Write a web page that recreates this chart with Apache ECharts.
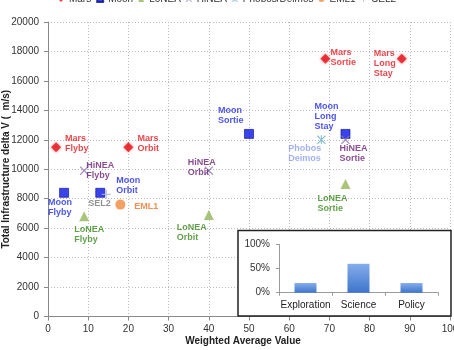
<!DOCTYPE html>
<html><head><meta charset="utf-8">
<script src="https://cdn.jsdelivr.net/npm/echarts@6/dist/echarts.min.js"></script>
<style>html,body{margin:0;padding:0;background:#fff}#c{width:454px;height:350px}</style>
</head><body><div id="c"></div>
<script>
// ---- data ----
const marsX = [2, 20, 69, 88];
const marsY = [11500, 11500, 17500, 17500];
const marsNames = ['Mars\nFlyby', 'Mars\nOrbit', 'Mars\nSortie', 'Mars\nLong\nStay'];
const moonX = [4, 13, 50, 74];
const moonY = [8400, 8400, 12400, 12400];
const moonNames = ['Moon\nFlyby', 'Moon\nOrbit', 'Moon\nSortie', 'Moon\nLong\nStay'];
const loneaX = [9, 40, 74];
const loneaY = [6800, 6900, 9000];
const loneaNames = ['LoNEA\nFlyby', 'LoNEA\nOrbit', 'LoNEA\nSortie'];
const hineaX = [9, 40, 74];
const hineaY = [9900, 9900, 12000];
const hineaNames = ['HiNEA\nFlyby', 'HiNEA\nOrbit', 'HiNEA\nSortie'];
const phobosX = [68];
const phobosY = [12000];
const phobosNames = ['Phobos\nDeimos'];
const emlX = [18];
const emlY = [7600];
const emlNames = ['EML1'];
const selX = [14.5];
const selY = [8300];
const selNames = ['SEL2'];
const insetCats = ['Exploration', 'Science', 'Policy'];
const insetVals = [20, 60, 20];

// ---- label placement (text top-left relative to marker centre) ----
const marsOff = [[9,-14],[9,-14],[5,-11],[-28,-10]];
const moonOff = [[-16,5],[16,-17],[-31,-28],[-31,-32]];
const loneaOff = [[-10,8],[-32,8],[-28,10]];
const hineaOff = [[2,-10],[-21,-13],[-6,4]];
const phobosOff = [[-33,4]];
const emlOff = [[14,-3]];
const selOff = [[-18,4]];

const FONT = 'Liberation Sans, Arial, Helvetica, sans-serif';
const X_PATH = 'path://M0,1L1,0L5,4L9,0L10,1L6,5L10,9L9,10L5,6L1,10L0,9L4,5Z';
const STAR_PATH = 'path://M0,1L1,0L5,4L9,0L10,1L6,5L10,9L9,10L5,6L1,10L0,9L4,5Z M4.4,0L5.6,0L5.6,10L4.4,10Z';
const PLUS_PATH = 'path://M4.3,0L5.7,0L5.7,4.3L10,4.3L10,5.7L5.7,5.7L5.7,10L4.3,10L4.3,5.7L0,5.7L0,4.3L4.3,4.3Z';

function pts(xs, ys, names, offs, color) {
  return xs.map((x, i) => ({
    value: [x, ys[i]],
    name: names[i],
    label: {
      show: true, formatter: names[i], position: 'inside',
      align: 'left', verticalAlign: 'top', offset: offs[i],
      color: color, fontWeight: 'bold', fontSize: 9, lineHeight: 10,
      fontFamily: FONT, textBorderWidth: 0
    }
  }));
}

function sc(name, data, symbol, size, color, extra) {
  return Object.assign({
    name: name, type: 'scatter', symbol: symbol, symbolSize: size,
    itemStyle: { color: color }, data: data, z: 3,
    emphasis: { disabled: true }
  }, extra || {});
}

const chart = echarts.init(document.getElementById('c'));
chart.setOption({
  animation: false,
  backgroundColor: '#fff',
  textStyle: { fontFamily: FONT },
  legend: {
    top: -6, left: 'center', padding: 0, itemGap: 5, itemWidth: 6, itemHeight: 6,
    textStyle: { fontSize: 10, color: '#333', fontFamily: FONT },
    data: ['Mars', 'Moon', 'LoNEA', 'HiNEA', 'Phobos/Deimos', 'EML1', 'SEL2']
  },
  grid: [
    { left: 48, right: 4, top: 22, bottom: 33.5, outerBoundsMode: 'none', containLabel: false },
    { left: 279, right: 16, top: 244.5, bottom: 57.3, outerBoundsMode: 'none', containLabel: false }
  ],
  xAxis: [
    {
      type: 'value', gridIndex: 0, min: 0, max: 100, interval: 10,
      name: 'Weighted Average Value', nameLocation: 'middle', nameGap: 20, nameMoveOverlap: false,
      nameTextStyle: { fontWeight: 'bold', fontSize: 10, color: '#222', fontFamily: FONT, padding: [0, 12, 0, 0] },
      axisLine: { lineStyle: { color: '#888' } },
      axisTick: { show: true, length: 4, lineStyle: { color: '#888' } },
      axisLabel: { fontSize: 10, color: '#333', margin: 8, formatter: v => String(v) },
      splitLine: { show: true, lineStyle: { color: '#bbb', type: [1, 2] } }
    },
    {
      type: 'category', gridIndex: 1, data: insetCats, z: 60,
      axisLine: { lineStyle: { color: '#999' } },
      axisTick: { show: true, length: 3, alignWithLabel: false, lineStyle: { color: '#999' } },
      axisLabel: { fontSize: 10, color: '#222', margin: 8, interval: 0 }
    }
  ],
  yAxis: [
    {
      type: 'value', gridIndex: 0, min: 0, max: 20000, interval: 2000,
      name: 'Total Infrastructure delta V (  m/s)', nameLocation: 'middle', nameGap: 37, nameMoveOverlap: false,
      nameTextStyle: { fontWeight: 'bold', fontSize: 10, color: '#222', fontFamily: FONT },
      axisLine: { show: true, lineStyle: { color: '#888' } },
      axisTick: { show: true, length: 4, lineStyle: { color: '#888' } },
      axisLabel: { fontSize: 10, color: '#333', margin: 9, formatter: v => String(v) },
      splitLine: { show: true, lineStyle: { color: '#bbb', type: [1, 2] } }
    },
    {
      type: 'value', gridIndex: 1, min: 0, max: 100, interval: 50, z: 60,
      axisLine: { show: true, lineStyle: { color: '#999' } },
      axisTick: { show: true, length: 3, lineStyle: { color: '#999' } },
      axisLabel: { fontSize: 10, color: '#333', margin: 9, formatter: '{value}%' },
      splitLine: { show: false }
    }
  ],
  graphic: [{
    type: 'rect', z: 50, silent: true,
    shape: { x: 238, y: 230.5, width: 213, height: 85.5 },
    style: { fill: '#fff', stroke: '#222', lineWidth: 1.5 }
  }],
  series: [
    sc('Mars', pts(marsX, marsY, marsNames, marsOff, '#e8161c'), 'diamond', 10, '#e8141b',
       { itemStyle: { color: '#e8141b', shadowBlur: 3, shadowColor: 'rgba(232,20,27,0.6)' } }),
    sc('Moon', pts(moonX, moonY, moonNames, moonOff, '#1f2be6'), 'rect', 9, '#0a14e8',
       { itemStyle: { color: '#0a14e8', borderColor: '#08108a', borderWidth: 0.8 } }),
    sc('LoNEA', pts(loneaX, loneaY, loneaNames, loneaOff, '#3a8a1e'), 'triangle', 10, '#93b55a'),
    sc('HiNEA', pts(hineaX, hineaY, hineaNames, hineaOff, '#6c2176'), X_PATH, 9, '#8e74b0'),
    sc('Phobos/Deimos', pts(phobosX, phobosY, phobosNames, phobosOff, '#8c9ef0'), STAR_PATH, 9, '#6fb3bf'),
    sc('EML1', pts(emlX, emlY, emlNames, emlOff, '#f0702a'), 'circle', 10, '#f08a3c'),
    sc('SEL2', pts(selX, selY, selNames, selOff, '#777'), PLUS_PATH, 9, '#a9b4d0'),
    {
      name: 'inset', type: 'bar', xAxisIndex: 1, yAxisIndex: 1, z: 60,
      barWidth: 22, data: insetVals, legendHoverLink: false,
      itemStyle: {
        color: new echarts.graphic.LinearGradient(0, 0, 0, 1, [
          { offset: 0, color: '#86acea' }, { offset: 1, color: '#3d75cd' }
        ])
      },
      emphasis: { disabled: true }
    }
  ]
});
</script>
</body></html>
